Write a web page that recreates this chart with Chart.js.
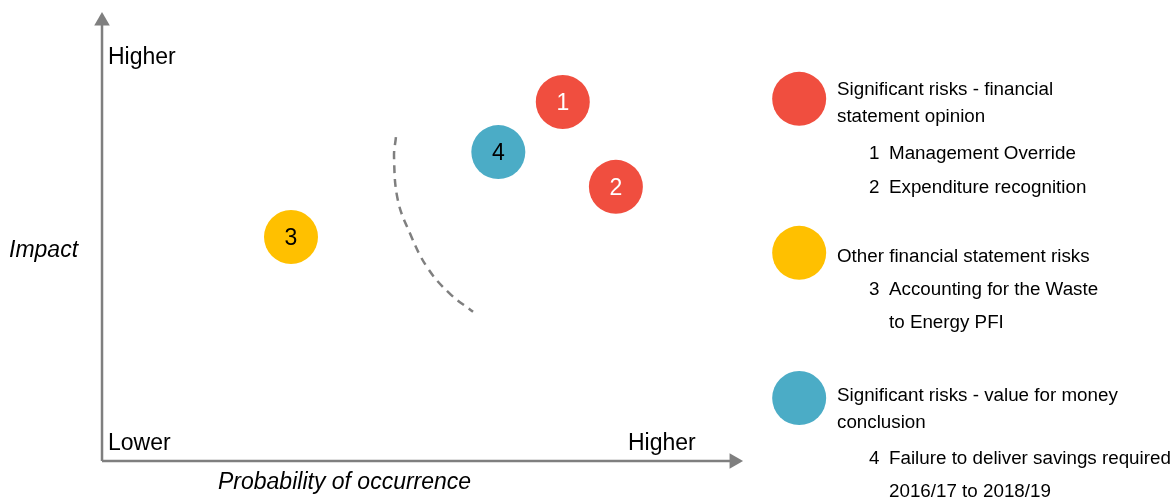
<!DOCTYPE html>
<html>
<head>
<meta charset="utf-8">
<script src="https://cdn.jsdelivr.net/npm/chart.js@4"></script>
<style>
  html, body { margin: 0; padding: 0; background: #fff; }
  #wrap { width: 1174px; height: 499px; position: relative; }
</style>
</head>
<body>
<div id="wrap"><canvas id="riscos"></canvas></div>
<script>
// Dados do mapa de riscos (escala 0-100 nos dois eixos)
const riskIds = ['1', '2', '3', '4'];
const riskX = [72.9, 81.3, 29.9, 62.7]; // probabilidade
const riskY = [81.6, 62.3, 50.9, 70.2]; // impacto
const riskGroup = [0, 0, 1, 2];

const groupNames = [
    ['Significant risks - financial', 'statement opinion'],
    ['Other financial statement risks'],
    ['Significant risks - value for money', 'conclusion']
];
const groupColors = ['#F04E3F', '#FFC000', '#4BACC6'];
const riskNames = [
    ['Management Override'],
    ['Expenditure recognition'],
    ['Accounting for the Waste', 'to Energy PFI'],
    ['Failure to deliver savings required', '2016/17 to 2018/19']
];

// linha tracejada (fronteira)
const arcX = [46.5, 46.2, 46.8, 48.7, 51.4, 54.9, 58.7];
const arcY = [73.6, 69.1, 59.3, 51.8, 44.1, 38.2, 33.9];

const axisLabels = { top: 'Higher', left: 'Impact', low: 'Lower', right: 'Higher', bottom: 'Probability of occurrence' };

// posicao das bolinhas da legenda (fora do grafico)
const legendKeyX = 110.3;
const legendKeyY = [82.3, 47.3, 14.3];

const FONT = '"Liberation Sans", Arial, sans-serif';
const AXIS = '#7F7F7F';

const riskPoints = riskIds.map((id, i) => ({ x: riskX[i], y: riskY[i] }));
const riskColors = riskIds.map((id, i) => groupColors[riskGroup[i]]);

const textosPlugin = {
    id: 'textos',
    afterDatasetsDraw(chart) {
        const ctx = chart.ctx;
        ctx.save();
        // numeros dentro das bolhas
        const meta = chart.getDatasetMeta(3);
        ctx.font = '23px ' + FONT;
        ctx.textAlign = 'center';
        ctx.textBaseline = 'alphabetic';
        meta.data.forEach((pt, i) => {
            ctx.fillStyle = riskGroup[i] === 0 ? '#ffffff' : '#000000';
            ctx.fillText(riskIds[i], pt.x, pt.y + 8);
        });

        // rotulos dos eixos
        ctx.fillStyle = '#000';
        ctx.textAlign = 'left';
        ctx.font = '23px ' + FONT;
        ctx.fillText(axisLabels.top, 108, 64);
        ctx.fillText(axisLabels.low, 108, 450);
        ctx.fillText(axisLabels.right, 628, 450);
        ctx.font = 'italic 23px ' + FONT;
        ctx.fillText(axisLabels.left, 9, 257);
        ctx.fillText(axisLabels.bottom, 218, 489);

        // legenda
        ctx.font = '18.8px ' + FONT;
        const titleBase = [95, 262, 401];
        const itemBase = [159, 193, 295, 464];
        groupNames.forEach((lines, g) => {
            lines.forEach((t, k) => ctx.fillText(t, 837, titleBase[g] + k * 27));
        });
        riskNames.forEach((lines, i) => {
            ctx.fillText(riskIds[i], 869, itemBase[i]);
            lines.forEach((t, k) => ctx.fillText(t, 889, itemBase[i] + k * 33));
        });
        ctx.restore();
    }
};

new Chart(document.getElementById('riscos').getContext('2d'), {
    type: 'scatter',
    data: {
        datasets: [
            {
                // fronteira tracejada
                type: 'line',
                data: arcX.map((x, i) => ({ x: x, y: arcY[i] })),
                borderColor: AXIS,
                borderWidth: 2.5,
                borderDash: [8, 6],
                tension: 0.4,
                pointRadius: 0,
                fill: false
            },
            {
                // eixo Y com seta
                type: 'line',
                data: [{ x: 0, y: 0 }, { x: 0, y: 100 }],
                borderColor: AXIS,
                borderWidth: 2.5,
                pointStyle: 'triangle',
                pointRadius: [0, 9],
                pointRotation: 0,
                pointBackgroundColor: AXIS,
                pointBorderWidth: 0
            },
            {
                // eixo X com seta
                type: 'line',
                data: [{ x: 0, y: 0 }, { x: 100, y: 0 }],
                borderColor: AXIS,
                borderWidth: 2.5,
                pointStyle: 'triangle',
                pointRadius: [0, 9],
                pointRotation: 90,
                pointBackgroundColor: AXIS,
                pointBorderWidth: 0
            },
            {
                // riscos
                data: riskPoints,
                pointRadius: 27,
                pointBackgroundColor: riskColors,
                pointBorderWidth: 0
            },
            {
                // bolinhas da legenda
                data: legendKeyY.map(y => ({ x: legendKeyX, y: y })),
                pointRadius: 27,
                pointBackgroundColor: groupColors,
                pointBorderWidth: 0
            }
        ]
    },
    options: {
        responsive: true,
        maintainAspectRatio: false,
        animation: false,
        events: [],
        layout: { padding: 0, autoPadding: false },
        plugins: {
            legend: { display: false },
            tooltip: { enabled: false }
        },
        scales: {
            x: { type: 'linear', display: false, min: -16.14, max: 169.6 },
            y: { type: 'linear', display: false, min: -8.64, max: 104.77 }
        }
    },
    plugins: [textosPlugin]
});
</script>
</body>
</html>
